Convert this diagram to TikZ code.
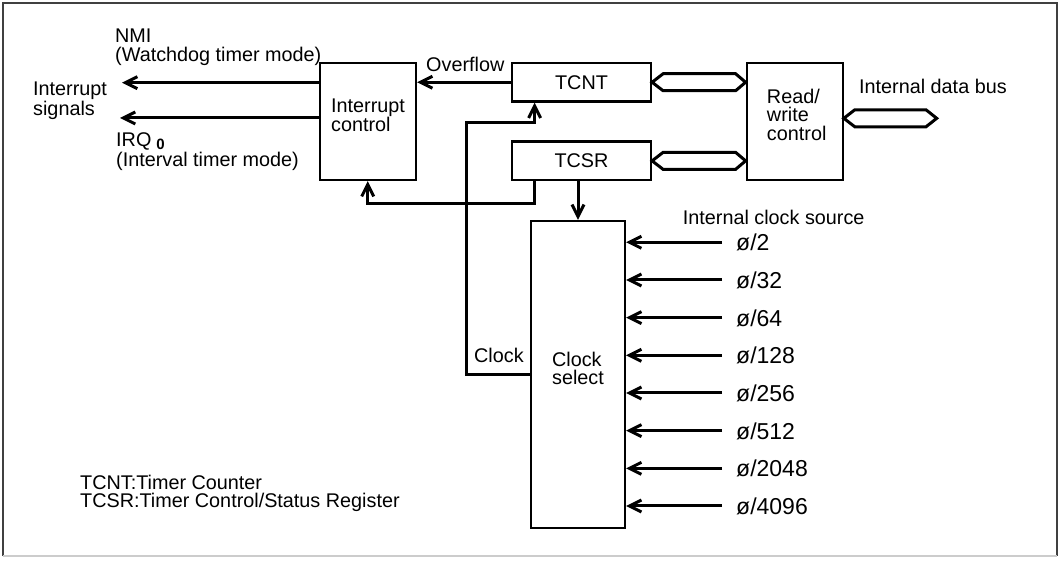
\documentclass[tikz,border=0pt]{standalone}
\usepackage{fontspec}
\setmainfont{Liberation Sans}
\usetikzlibrary{positioning,arrows.meta,calc}

\begin{document}
\begin{tikzpicture}[x=1pt,y=-1pt,on grid,font=\fontsize{19.8}{18.5}\selectfont,
  >={Straight Barb[length=12pt,width=12pt]},
  bx/.style={draw,line width=2.2pt,inner sep=0pt,align=left},
  sig/.style={->,line width=3pt},
  bus/.style={line width=3pt,line join=miter},
  lbl/.style={anchor=base west,inner sep=0pt},
  div/.style={anchor=base west,inner sep=0pt,font=\fontsize{23}{23}\selectfont}]
\useasboundingbox (0,0) rectangle (1060,561);
\draw[line width=1.6pt,black!75] (3,556) -- (3,3) -- (1057,3) -- (1057,556);
\draw[line width=1.6pt,black!20] (3,556) -- (1057,556);
\node[bx,minimum width=96pt,minimum height=117pt] (ic) at (368,121.5) {Interrupt\\control\\[-6pt]};
\node[bx,minimum width=139pt,minimum height=38.5pt] (tcnt) at (581.5,82.25) {TCNT};
\node[bx,minimum width=139pt,minimum height=38.5pt,below=78.6pt of tcnt] (tcsr) {TCSR};
\node[bx,minimum width=96pt,minimum height=117pt,right=426.7pt of ic] (rw) {};
\node[align=left,inner sep=0pt] (rwtxt) at ([xshift=2pt,yshift=7pt]rw.center) {Read/\\write\\control};
\node[bx,minimum width=94pt,minimum height=307pt] (cs) at (578,374.5) {Clock\\select\\[-6pt]};
\node[lbl] (nmi) at (115,43) {NMI};
\node[lbl] (wdt) at (115,62) {(Watchdog timer mode)};
\node[lbl] (intsig) at (33,96) {Interrupt};
\node[lbl] (intsig2) at (33,115.5) {signals};
\node[lbl] (irq) at (116,147) {IRQ\kern5pt\raisebox{-3pt}{\fontsize{15}{15}\selectfont\bfseries 0}};
\node[lbl] (itm) at (116,167) {(Interval timer mode)};
\node[lbl] (ovf) at (426,72) {Overflow};
\node[lbl] (dbus) at (859,94) {Internal data bus};
\node[lbl] (src) at (682.7,224.3) {Internal clock source};
\node[lbl] (leg1) at (80,489.3) {TCNT:Timer Counter};
\node[lbl] (leg2) at (80,507.3) {TCSR:Timer Control/Status Register};
\coordinate (nmiend) at (122,82.7);
\coordinate (irqend) at (120,118);
\coordinate (clk) at (466.7,122.7);
\coordinate (ovin) at (367.7,203.3);
\coordinate (dbusend) at (936.7,118.3);
\draw[sig] (ic.west |- nmiend) -- (nmiend);
\draw[sig] (ic.west |- irqend) -- (irqend);
\draw[sig] (tcnt.west) -- (ic.east |- tcnt.west);
\draw[sig] (cs.west) -| (clk) -| ([xshift=23.7pt]tcnt.south west);
\node[lbl,anchor=base east] (clklbl) at ([xshift=-6pt,yshift=11.8pt]cs.west) {Clock};
\draw[sig] ([xshift=23.7pt]tcsr.south west) |- (ovin) -- (ovin |- ic.south);
\draw[sig] (tcsr.south -| cs.north) -- (cs.north);
\draw[bus] (tcnt.east) -- ++(11,-8.5) -- ($(rw.west |- tcnt.east)+(-10,-8.5)$) -- (rw.west |- tcnt.east)
  -- ++(-10,8.5) -- ($(tcnt.east)+(11,8.5)$) -- cycle;
\draw[bus] (tcsr.east) -- ++(11,-8.5) -- ($(rw.west |- tcsr.east)+(-10,-8.5)$) -- (rw.west |- tcsr.east)
  -- ++(-10,8.5) -- ($(tcsr.east)+(11,8.5)$) -- cycle;
\draw[bus] (rw.east |- dbusend) -- ++(11,-8.5) -- ($(dbusend)+(-10.7,-8.5)$) -- (dbusend)
  -- ++(-10.7,8.5) -- ($(rw.east |- dbusend)+(11,8.5)$) -- cycle;
\foreach \d [count=\i from 0] in {2,32,64,128,256,512,2048,4096}{
  \coordinate (in\i) at (722,242.3+37.67*\i);
  \draw[sig] (in\i) -- (cs.east |- in\i);
  \node[div] (div\i) at (736,250.7+37.67*\i) {ø/\d};
}
\end{tikzpicture}
\end{document}
